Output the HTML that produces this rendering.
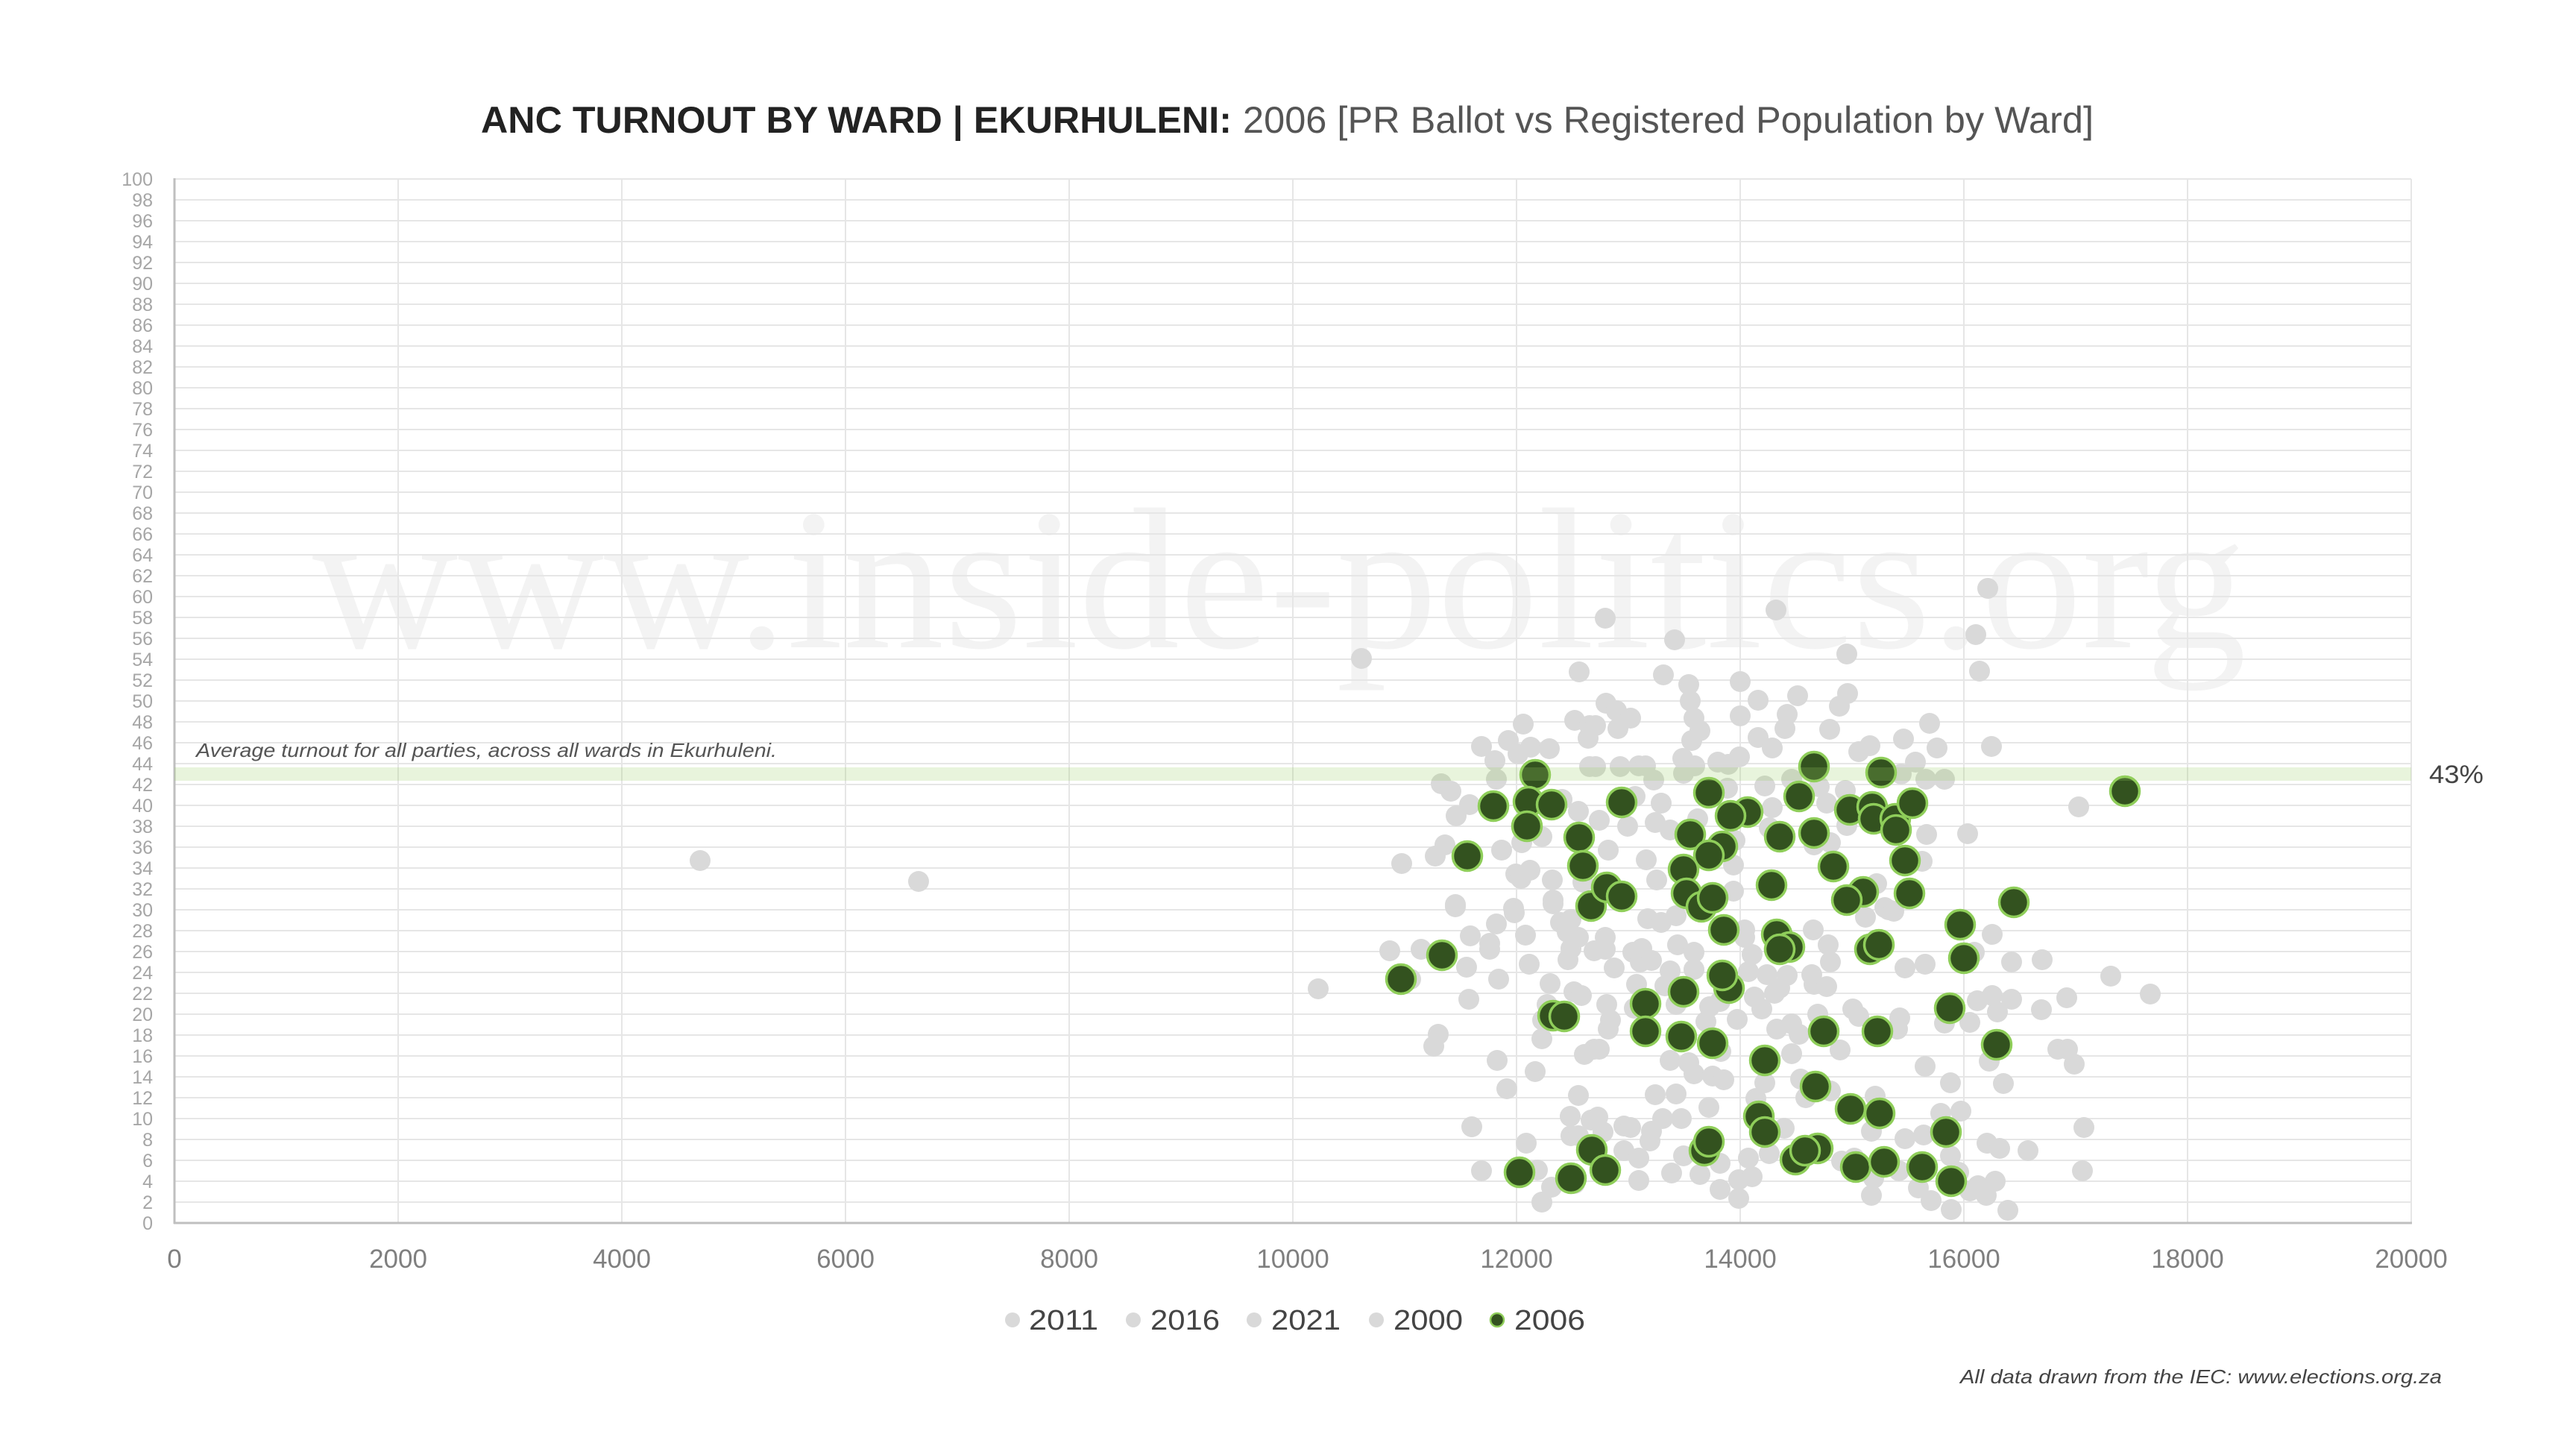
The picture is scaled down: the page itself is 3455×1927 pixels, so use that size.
<!DOCTYPE html>
<html><head><meta charset="utf-8"><style>
html,body{margin:0;padding:0;background:#fff;}
svg{display:block;}
text{font-family:"Liberation Sans",sans-serif;}
</style></head><body>
<svg width="3455" height="1927" viewBox="0 0 3455 1927" xmlns="http://www.w3.org/2000/svg">
<rect width="3455" height="1927" fill="#fff"/>
<!-- watermark -->
<text x="419" y="868" font-family="Liberation Serif, serif" style="font-family:'Liberation Serif',serif" font-size="270" fill="#f3f3f3" textLength="2594" lengthAdjust="spacingAndGlyphs">www.inside-politics.org</text>
<!-- gridlines -->
<g stroke="#e6e6e6" stroke-width="2">
<line x1="234" y1="240" x2="3234" y2="240"/><line x1="234" y1="268" x2="3234" y2="268"/><line x1="234" y1="296" x2="3234" y2="296"/><line x1="234" y1="324" x2="3234" y2="324"/><line x1="234" y1="352" x2="3234" y2="352"/><line x1="234" y1="380" x2="3234" y2="380"/><line x1="234" y1="408" x2="3234" y2="408"/><line x1="234" y1="436" x2="3234" y2="436"/><line x1="234" y1="464" x2="3234" y2="464"/><line x1="234" y1="492" x2="3234" y2="492"/><line x1="234" y1="520" x2="3234" y2="520"/><line x1="234" y1="548" x2="3234" y2="548"/><line x1="234" y1="576" x2="3234" y2="576"/><line x1="234" y1="604" x2="3234" y2="604"/><line x1="234" y1="632" x2="3234" y2="632"/><line x1="234" y1="660" x2="3234" y2="660"/><line x1="234" y1="688" x2="3234" y2="688"/><line x1="234" y1="716" x2="3234" y2="716"/><line x1="234" y1="744" x2="3234" y2="744"/><line x1="234" y1="772" x2="3234" y2="772"/><line x1="234" y1="800" x2="3234" y2="800"/><line x1="234" y1="828" x2="3234" y2="828"/><line x1="234" y1="856" x2="3234" y2="856"/><line x1="234" y1="884" x2="3234" y2="884"/><line x1="234" y1="912" x2="3234" y2="912"/><line x1="234" y1="940" x2="3234" y2="940"/><line x1="234" y1="968" x2="3234" y2="968"/><line x1="234" y1="996" x2="3234" y2="996"/><line x1="234" y1="1024" x2="3234" y2="1024"/><line x1="234" y1="1052" x2="3234" y2="1052"/><line x1="234" y1="1080" x2="3234" y2="1080"/><line x1="234" y1="1108" x2="3234" y2="1108"/><line x1="234" y1="1136" x2="3234" y2="1136"/><line x1="234" y1="1164" x2="3234" y2="1164"/><line x1="234" y1="1192" x2="3234" y2="1192"/><line x1="234" y1="1220" x2="3234" y2="1220"/><line x1="234" y1="1248" x2="3234" y2="1248"/><line x1="234" y1="1276" x2="3234" y2="1276"/><line x1="234" y1="1304" x2="3234" y2="1304"/><line x1="234" y1="1332" x2="3234" y2="1332"/><line x1="234" y1="1360" x2="3234" y2="1360"/><line x1="234" y1="1388" x2="3234" y2="1388"/><line x1="234" y1="1416" x2="3234" y2="1416"/><line x1="234" y1="1444" x2="3234" y2="1444"/><line x1="234" y1="1472" x2="3234" y2="1472"/><line x1="234" y1="1500" x2="3234" y2="1500"/><line x1="234" y1="1528" x2="3234" y2="1528"/><line x1="234" y1="1556" x2="3234" y2="1556"/><line x1="234" y1="1584" x2="3234" y2="1584"/><line x1="234" y1="1612" x2="3234" y2="1612"/>
<line x1="534" y1="240" x2="534" y2="1640"/><line x1="834" y1="240" x2="834" y2="1640"/><line x1="1134" y1="240" x2="1134" y2="1640"/><line x1="1434" y1="240" x2="1434" y2="1640"/><line x1="1734" y1="240" x2="1734" y2="1640"/><line x1="2034" y1="240" x2="2034" y2="1640"/><line x1="2334" y1="240" x2="2334" y2="1640"/><line x1="2634" y1="240" x2="2634" y2="1640"/><line x1="2934" y1="240" x2="2934" y2="1640"/><line x1="3234" y1="240" x2="3234" y2="1640"/>
</g>
<!-- axes -->
<line x1="234" y1="239" x2="234" y2="1641" stroke="#bfbfbf" stroke-width="3"/>
<line x1="233" y1="1640" x2="3235" y2="1640" stroke="#bfbfbf" stroke-width="3"/>
<!-- y labels -->
<g font-size="25" fill="#a6a6a6" text-anchor="end">
<text x="205" y="249">100</text><text x="205" y="277">98</text><text x="205" y="305">96</text><text x="205" y="333">94</text><text x="205" y="361">92</text><text x="205" y="389">90</text><text x="205" y="417">88</text><text x="205" y="445">86</text><text x="205" y="473">84</text><text x="205" y="501">82</text><text x="205" y="529">80</text><text x="205" y="557">78</text><text x="205" y="585">76</text><text x="205" y="613">74</text><text x="205" y="641">72</text><text x="205" y="669">70</text><text x="205" y="697">68</text><text x="205" y="725">66</text><text x="205" y="753">64</text><text x="205" y="781">62</text><text x="205" y="809">60</text><text x="205" y="837">58</text><text x="205" y="865">56</text><text x="205" y="893">54</text><text x="205" y="921">52</text><text x="205" y="949">50</text><text x="205" y="977">48</text><text x="205" y="1005">46</text><text x="205" y="1033">44</text><text x="205" y="1061">42</text><text x="205" y="1089">40</text><text x="205" y="1117">38</text><text x="205" y="1145">36</text><text x="205" y="1173">34</text><text x="205" y="1201">32</text><text x="205" y="1229">30</text><text x="205" y="1257">28</text><text x="205" y="1285">26</text><text x="205" y="1313">24</text><text x="205" y="1341">22</text><text x="205" y="1369">20</text><text x="205" y="1397">18</text><text x="205" y="1425">16</text><text x="205" y="1453">14</text><text x="205" y="1481">12</text><text x="205" y="1509">10</text><text x="205" y="1537">8</text><text x="205" y="1565">6</text><text x="205" y="1593">4</text><text x="205" y="1621">2</text><text x="205" y="1649">0</text>
</g>
<!-- x labels -->
<g font-size="35" fill="#7f7f7f" text-anchor="middle">
<text x="234" y="1700">0</text><text x="534" y="1700">2000</text><text x="834" y="1700">4000</text><text x="1134" y="1700">6000</text><text x="1434" y="1700">8000</text><text x="1734" y="1700">10000</text><text x="2034" y="1700">12000</text><text x="2334" y="1700">14000</text><text x="2634" y="1700">16000</text><text x="2934" y="1700">18000</text><text x="3234" y="1700">20000</text>
</g>
<!-- gray series -->
<g fill="#d9d9d9">
<circle cx="939" cy="1154" r="14"/><circle cx="1232" cy="1182" r="14"/><circle cx="1826" cy="883" r="14"/><circle cx="1768" cy="1326" r="14"/>
<circle cx="2118" cy="901" r="14"/><circle cx="2043" cy="971" r="14"/><circle cx="2112" cy="966" r="14"/><circle cx="2132" cy="973" r="14"/><circle cx="2130" cy="990" r="14"/><circle cx="1987" cy="1001" r="14"/><circle cx="2023" cy="993" r="14"/><circle cx="2053" cy="1002" r="14"/><circle cx="2078" cy="1004" r="14"/><circle cx="2036" cy="1011" r="14"/><circle cx="2005" cy="1020" r="14"/><circle cx="2132" cy="1028" r="14"/><circle cx="2007" cy="1045" r="14"/><circle cx="1933" cy="1051" r="14"/><circle cx="1946" cy="1061" r="14"/><circle cx="1971" cy="1079" r="14"/><circle cx="1953" cy="1094" r="14"/><circle cx="2095" cy="1072" r="14"/><circle cx="2117" cy="1088" r="14"/><circle cx="2068" cy="1122" r="14"/><circle cx="2041" cy="1130" r="14"/><circle cx="2014" cy="1140" r="14"/><circle cx="1938" cy="1133" r="14"/><circle cx="1925" cy="1148" r="14"/><circle cx="1880" cy="1158" r="14"/><circle cx="2052" cy="1167" r="14"/><circle cx="2033" cy="1172" r="14"/><circle cx="2040" cy="1178" r="14"/><circle cx="2082" cy="1180" r="14"/><circle cx="2083" cy="1207" r="14"/><circle cx="1952" cy="1213" r="14"/><circle cx="2030" cy="1218" r="14"/><circle cx="2123" cy="1183" r="14"/>
<circle cx="2153" cy="829" r="14"/><circle cx="2246" cy="858" r="14"/><circle cx="2382" cy="818" r="14"/><circle cx="2477" cy="877" r="14"/><circle cx="2231" cy="905" r="14"/><circle cx="2265" cy="918" r="14"/><circle cx="2334" cy="914" r="14"/><circle cx="2267" cy="940" r="14"/><circle cx="2358" cy="939" r="14"/><circle cx="2411" cy="933" r="14"/><circle cx="2478" cy="930" r="14"/><circle cx="2467" cy="947" r="14"/><circle cx="2154" cy="943" r="14"/><circle cx="2168" cy="953" r="14"/><circle cx="2187" cy="963" r="14"/><circle cx="2170" cy="977" r="14"/><circle cx="2140" cy="973" r="14"/><circle cx="2334" cy="960" r="14"/><circle cx="2397" cy="958" r="14"/><circle cx="2272" cy="963" r="14"/><circle cx="2280" cy="980" r="14"/><circle cx="2269" cy="993" r="14"/><circle cx="2394" cy="977" r="14"/><circle cx="2454" cy="978" r="14"/><circle cx="2358" cy="989" r="14"/><circle cx="2377" cy="1003" r="14"/><circle cx="2493" cy="1008" r="14"/><circle cx="2508" cy="1000" r="14"/><circle cx="2257" cy="1017" r="14"/><circle cx="2273" cy="1027" r="14"/><circle cx="2304" cy="1022" r="14"/><circle cx="2333" cy="1015" r="14"/><circle cx="2318" cy="1025" r="14"/><circle cx="2173" cy="1028" r="14"/><circle cx="2198" cy="1027" r="14"/><circle cx="2207" cy="1027" r="14"/><circle cx="2140" cy="1028" r="14"/><circle cx="2218" cy="1046" r="14"/><circle cx="2258" cy="1037" r="14"/><circle cx="2367" cy="1054" r="14"/><circle cx="2403" cy="1045" r="14"/><circle cx="2317" cy="1057" r="14"/><circle cx="2193" cy="1068" r="14"/><circle cx="2228" cy="1077" r="14"/><circle cx="2377" cy="1083" r="14"/><circle cx="2440" cy="1055" r="14"/><circle cx="2475" cy="1060" r="14"/><circle cx="2450" cy="1077" r="14"/><circle cx="2145" cy="1100" r="14"/><circle cx="2183" cy="1108" r="14"/><circle cx="2240" cy="1113" r="14"/><circle cx="2220" cy="1103" r="14"/><circle cx="2277" cy="1098" r="14"/><circle cx="2373" cy="1110" r="14"/><circle cx="2477" cy="1107" r="14"/><circle cx="2327" cy="1127" r="14"/><circle cx="2157" cy="1140" r="14"/><circle cx="2208" cy="1153" r="14"/><circle cx="2455" cy="1130" r="14"/><circle cx="2433" cy="1133" r="14"/><circle cx="2222" cy="1180" r="14"/><circle cx="2325" cy="1160" r="14"/><circle cx="2325" cy="1195" r="14"/><circle cx="2517" cy="1185" r="14"/><circle cx="2528" cy="1217" r="14"/>
<circle cx="2666" cy="789" r="14"/><circle cx="2650" cy="851" r="14"/><circle cx="2655" cy="900" r="14"/><circle cx="2588" cy="970" r="14"/><circle cx="2553" cy="991" r="14"/><circle cx="2598" cy="1003" r="14"/><circle cx="2671" cy="1001" r="14"/><circle cx="2569" cy="1022" r="14"/><circle cx="2550" cy="1038" r="14"/><circle cx="2583" cy="1045" r="14"/><circle cx="2608" cy="1045" r="14"/><circle cx="2788" cy="1082" r="14"/><circle cx="2584" cy="1119" r="14"/><circle cx="2639" cy="1118" r="14"/><circle cx="2578" cy="1155" r="14"/>
<circle cx="1952" cy="1216" r="14"/><circle cx="2031" cy="1224" r="14"/><circle cx="2083" cy="1212" r="14"/><circle cx="2007" cy="1239" r="14"/><circle cx="1972" cy="1255" r="14"/><circle cx="1998" cy="1265" r="14"/><circle cx="1998" cy="1273" r="14"/><circle cx="2046" cy="1254" r="14"/><circle cx="2093" cy="1237" r="14"/><circle cx="2107" cy="1233" r="14"/><circle cx="2102" cy="1250" r="14"/><circle cx="2117" cy="1257" r="14"/><circle cx="2107" cy="1272" r="14"/><circle cx="2138" cy="1275" r="14"/><circle cx="2103" cy="1287" r="14"/><circle cx="1864" cy="1275" r="14"/><circle cx="1906" cy="1273" r="14"/><circle cx="1967" cy="1297" r="14"/><circle cx="2051" cy="1293" r="14"/><circle cx="2010" cy="1313" r="14"/><circle cx="1892" cy="1313" r="14"/><circle cx="1970" cy="1340" r="14"/><circle cx="2079" cy="1319" r="14"/><circle cx="2111" cy="1330" r="14"/><circle cx="2121" cy="1335" r="14"/><circle cx="2075" cy="1347" r="14"/><circle cx="2069" cy="1368" r="14"/><circle cx="2068" cy="1393" r="14"/><circle cx="1929" cy="1387" r="14"/><circle cx="1923" cy="1403" r="14"/><circle cx="2125" cy="1414" r="14"/><circle cx="2138" cy="1407" r="14"/><circle cx="2008" cy="1422" r="14"/><circle cx="2059" cy="1437" r="14"/><circle cx="2021" cy="1460" r="14"/><circle cx="2117" cy="1469" r="14"/><circle cx="2106" cy="1497" r="14"/><circle cx="2134" cy="1502" r="14"/><circle cx="1974" cy="1511" r="14"/><circle cx="2107" cy="1523" r="14"/><circle cx="2117" cy="1523" r="14"/><circle cx="2047" cy="1533" r="14"/><circle cx="1987" cy="1570" r="14"/><circle cx="2062" cy="1569" r="14"/><circle cx="2081" cy="1592" r="14"/><circle cx="2112" cy="1587" r="14"/><circle cx="2068" cy="1612" r="14"/>
<circle cx="2210" cy="1232" r="14"/><circle cx="2228" cy="1237" r="14"/><circle cx="2248" cy="1228" r="14"/><circle cx="2153" cy="1257" r="14"/><circle cx="2153" cy="1273" r="14"/><circle cx="2165" cy="1298" r="14"/><circle cx="2190" cy="1277" r="14"/><circle cx="2202" cy="1272" r="14"/><circle cx="2200" cy="1290" r="14"/><circle cx="2215" cy="1288" r="14"/><circle cx="2250" cy="1267" r="14"/><circle cx="2272" cy="1277" r="14"/><circle cx="2240" cy="1302" r="14"/><circle cx="2272" cy="1300" r="14"/><circle cx="2233" cy="1322" r="14"/><circle cx="2195" cy="1320" r="14"/><circle cx="2340" cy="1247" r="14"/><circle cx="2340" cy="1257" r="14"/><circle cx="2350" cy="1280" r="14"/><circle cx="2345" cy="1303" r="14"/><circle cx="2370" cy="1307" r="14"/><circle cx="2397" cy="1308" r="14"/><circle cx="2387" cy="1325" r="14"/><circle cx="2432" cy="1247" r="14"/><circle cx="2452" cy="1267" r="14"/><circle cx="2455" cy="1290" r="14"/><circle cx="2430" cy="1307" r="14"/><circle cx="2433" cy="1320" r="14"/><circle cx="2450" cy="1323" r="14"/><circle cx="2533" cy="1220" r="14"/><circle cx="2502" cy="1230" r="14"/><circle cx="2155" cy="1347" r="14"/><circle cx="2192" cy="1352" r="14"/><circle cx="2160" cy="1368" r="14"/><circle cx="2157" cy="1380" r="14"/><circle cx="2145" cy="1407" r="14"/><circle cx="2248" cy="1347" r="14"/><circle cx="2293" cy="1350" r="14"/><circle cx="2288" cy="1370" r="14"/><circle cx="2330" cy="1367" r="14"/><circle cx="2353" cy="1337" r="14"/><circle cx="2363" cy="1353" r="14"/><circle cx="2380" cy="1332" r="14"/><circle cx="2307" cy="1343" r="14"/><circle cx="2438" cy="1360" r="14"/><circle cx="2485" cy="1353" r="14"/><circle cx="2493" cy="1363" r="14"/><circle cx="2383" cy="1380" r="14"/><circle cx="2403" cy="1373" r="14"/><circle cx="2413" cy="1387" r="14"/><circle cx="2403" cy="1413" r="14"/><circle cx="2453" cy="1383" r="14"/><circle cx="2468" cy="1408" r="14"/><circle cx="2240" cy="1422" r="14"/><circle cx="2265" cy="1425" r="14"/><circle cx="2272" cy="1440" r="14"/><circle cx="2308" cy="1410" r="14"/><circle cx="2297" cy="1443" r="14"/><circle cx="2312" cy="1448" r="14"/><circle cx="2220" cy="1468" r="14"/><circle cx="2248" cy="1467" r="14"/><circle cx="2292" cy="1485" r="14"/><circle cx="2367" cy="1452" r="14"/><circle cx="2355" cy="1473" r="14"/><circle cx="2415" cy="1447" r="14"/><circle cx="2422" cy="1472" r="14"/><circle cx="2455" cy="1463" r="14"/><circle cx="2515" cy="1470" r="14"/><circle cx="2510" cy="1517" r="14"/><circle cx="2143" cy="1498" r="14"/><circle cx="2150" cy="1518" r="14"/><circle cx="2178" cy="1510" r="14"/><circle cx="2187" cy="1512" r="14"/><circle cx="2230" cy="1500" r="14"/><circle cx="2255" cy="1500" r="14"/><circle cx="2215" cy="1517" r="14"/><circle cx="2213" cy="1530" r="14"/><circle cx="2178" cy="1543" r="14"/><circle cx="2198" cy="1553" r="14"/><circle cx="2198" cy="1583" r="14"/><circle cx="2258" cy="1550" r="14"/><circle cx="2242" cy="1573" r="14"/><circle cx="2280" cy="1575" r="14"/><circle cx="2307" cy="1560" r="14"/><circle cx="2307" cy="1595" r="14"/><circle cx="2332" cy="1582" r="14"/><circle cx="2332" cy="1607" r="14"/><circle cx="2345" cy="1553" r="14"/><circle cx="2350" cy="1578" r="14"/><circle cx="2373" cy="1547" r="14"/><circle cx="2393" cy="1513" r="14"/><circle cx="2470" cy="1557" r="14"/><circle cx="2487" cy="1553" r="14"/><circle cx="2510" cy="1603" r="14"/><circle cx="2513" cy="1580" r="14"/>
<circle cx="2540" cy="1222" r="14"/><circle cx="2672" cy="1253" r="14"/><circle cx="2648" cy="1277" r="14"/><circle cx="2582" cy="1293" r="14"/><circle cx="2555" cy="1298" r="14"/><circle cx="2698" cy="1290" r="14"/><circle cx="2739" cy="1287" r="14"/><circle cx="2831" cy="1309" r="14"/><circle cx="2884" cy="1333" r="14"/><circle cx="2652" cy="1342" r="14"/><circle cx="2672" cy="1335" r="14"/><circle cx="2698" cy="1340" r="14"/><circle cx="2679" cy="1357" r="14"/><circle cx="2642" cy="1371" r="14"/><circle cx="2608" cy="1372" r="14"/><circle cx="2772" cy="1338" r="14"/><circle cx="2738" cy="1354" r="14"/><circle cx="2548" cy="1365" r="14"/><circle cx="2545" cy="1380" r="14"/><circle cx="2760" cy="1407" r="14"/><circle cx="2773" cy="1407" r="14"/><circle cx="2782" cy="1427" r="14"/><circle cx="2668" cy="1423" r="14"/><circle cx="2582" cy="1430" r="14"/><circle cx="2616" cy="1452" r="14"/><circle cx="2687" cy="1453" r="14"/><circle cx="2603" cy="1493" r="14"/><circle cx="2630" cy="1490" r="14"/><circle cx="2795" cy="1512" r="14"/><circle cx="2555" cy="1527" r="14"/><circle cx="2580" cy="1522" r="14"/><circle cx="2665" cy="1533" r="14"/><circle cx="2682" cy="1540" r="14"/><circle cx="2720" cy="1543" r="14"/><circle cx="2616" cy="1550" r="14"/><circle cx="2793" cy="1570" r="14"/><circle cx="2547" cy="1570" r="14"/><circle cx="2573" cy="1593" r="14"/><circle cx="2590" cy="1610" r="14"/><circle cx="2627" cy="1572" r="14"/><circle cx="2642" cy="1597" r="14"/><circle cx="2653" cy="1590" r="14"/><circle cx="2676" cy="1584" r="14"/><circle cx="2664" cy="1603" r="14"/><circle cx="2617" cy="1622" r="14"/><circle cx="2693" cy="1623" r="14"/>
</g>
<!-- 2006 green series -->
<g fill="#33521f" stroke="#8fce5a" stroke-width="3.5">
<circle cx="2059" cy="1039" r="19.5"/><circle cx="2003" cy="1081" r="19.5"/><circle cx="2050" cy="1075" r="19.5"/><circle cx="2081" cy="1079" r="19.5"/><circle cx="2048" cy="1108" r="19.5"/><circle cx="2118" cy="1123" r="19.5"/><circle cx="2123" cy="1161" r="19.5"/><circle cx="1968" cy="1148" r="19.5"/><circle cx="2134" cy="1215" r="19.5"/><circle cx="2175" cy="1076" r="19.5"/><circle cx="2292" cy="1063" r="19.5"/><circle cx="2344" cy="1089" r="19.5"/><circle cx="2321" cy="1094" r="19.5"/><circle cx="2433" cy="1028" r="19.5"/><circle cx="2413" cy="1068" r="19.5"/><circle cx="2523" cy="1036" r="19.5"/><circle cx="2481" cy="1086" r="19.5"/><circle cx="2511" cy="1082" r="19.5"/><circle cx="2513" cy="1098" r="19.5"/><circle cx="2542" cy="1098" r="19.5"/><circle cx="2267" cy="1119" r="19.5"/><circle cx="2310" cy="1135" r="19.5"/><circle cx="2292" cy="1147" r="19.5"/><circle cx="2387" cy="1122" r="19.5"/><circle cx="2433" cy="1117" r="19.5"/><circle cx="2258" cy="1166" r="19.5"/><circle cx="2459" cy="1162" r="19.5"/><circle cx="2376" cy="1187" r="19.5"/><circle cx="2155" cy="1190" r="19.5"/><circle cx="2175" cy="1202" r="19.5"/><circle cx="2262" cy="1198" r="19.5"/><circle cx="2282" cy="1216" r="19.5"/><circle cx="2297" cy="1204" r="19.5"/><circle cx="2499" cy="1196" r="19.5"/><circle cx="2477" cy="1207" r="19.5"/><circle cx="2850" cy="1061" r="19.5"/><circle cx="2565" cy="1077" r="19.5"/><circle cx="2543" cy="1113" r="19.5"/><circle cx="2555" cy="1154" r="19.5"/><circle cx="2561" cy="1198" r="19.5"/><circle cx="2701" cy="1210" r="19.5"/><circle cx="1934" cy="1281" r="19.5"/><circle cx="1879" cy="1313" r="19.5"/><circle cx="2083" cy="1362" r="19.5"/><circle cx="2098" cy="1363" r="19.5"/><circle cx="2135" cy="1542" r="19.5"/><circle cx="2038" cy="1572" r="19.5"/><circle cx="2107" cy="1580" r="19.5"/><circle cx="2153" cy="1569" r="19.5"/>
<circle cx="2312" cy="1247" r="19.5"/><circle cx="2383" cy="1253" r="19.5"/><circle cx="2400" cy="1270" r="19.5"/><circle cx="2387" cy="1273" r="19.5"/><circle cx="2508" cy="1273" r="19.5"/><circle cx="2520" cy="1267" r="19.5"/><circle cx="2319" cy="1325" r="19.5"/><circle cx="2310" cy="1308" r="19.5"/><circle cx="2258" cy="1330" r="19.5"/><circle cx="2207" cy="1346" r="19.5"/><circle cx="2207" cy="1383" r="19.5"/><circle cx="2255" cy="1390" r="19.5"/><circle cx="2297" cy="1399" r="19.5"/><circle cx="2446" cy="1383" r="19.5"/><circle cx="2518" cy="1383" r="19.5"/><circle cx="2367" cy="1422" r="19.5"/><circle cx="2435" cy="1457" r="19.5"/><circle cx="2482" cy="1487" r="19.5"/><circle cx="2521" cy="1493" r="19.5"/><circle cx="2359" cy="1497" r="19.5"/><circle cx="2367" cy="1518" r="19.5"/><circle cx="2286" cy="1543" r="19.5"/><circle cx="2292" cy="1531" r="19.5"/><circle cx="2408" cy="1555" r="19.5"/><circle cx="2438" cy="1540" r="19.5"/><circle cx="2421" cy="1543" r="19.5"/><circle cx="2489" cy="1565" r="19.5"/><circle cx="2527" cy="1558" r="19.5"/>
<circle cx="2629" cy="1240" r="19.5"/><circle cx="2634" cy="1285" r="19.5"/><circle cx="2615" cy="1352" r="19.5"/><circle cx="2678" cy="1401" r="19.5"/><circle cx="2610" cy="1518" r="19.5"/><circle cx="2578" cy="1565" r="19.5"/><circle cx="2617" cy="1584" r="19.5"/>
</g>
<!-- average band (overlay) -->
<rect x="234" y="1029" width="3000" height="18" fill="rgb(153,206,100)" fill-opacity="0.225"/>
<text x="263" y="1015" font-size="26" font-style="italic" fill="#555" textLength="779" lengthAdjust="spacingAndGlyphs">Average turnout for all parties, across all wards in Ekurhuleni.</text>
<text x="3258" y="1050" font-size="34" fill="#444" textLength="73" lengthAdjust="spacingAndGlyphs">43%</text>
<!-- title -->
<text x="645" y="178" font-size="50" font-weight="bold" fill="#222" textLength="1007" lengthAdjust="spacingAndGlyphs">ANC TURNOUT BY WARD | EKURHULENI:</text>
<text x="1667" y="178" font-size="50" fill="#555" textLength="1141" lengthAdjust="spacingAndGlyphs">2006 [PR Ballot vs Registered Population by Ward]</text>
<!-- legend -->
<g fill="#d9d9d9">
<circle cx="1358" cy="1770" r="10"/><circle cx="1520" cy="1770" r="10"/><circle cx="1682" cy="1770" r="10"/><circle cx="1846" cy="1770" r="10"/>
</g>
<circle cx="2008" cy="1770" r="9" fill="#33521f" stroke="#8fce5a" stroke-width="2.5"/>
<g font-size="38" fill="#444">
<text x="1380" y="1783" textLength="93" lengthAdjust="spacingAndGlyphs">2011</text>
<text x="1543" y="1783" textLength="93" lengthAdjust="spacingAndGlyphs">2016</text>
<text x="1705" y="1783" textLength="93" lengthAdjust="spacingAndGlyphs">2021</text>
<text x="1869" y="1783" textLength="93" lengthAdjust="spacingAndGlyphs">2000</text>
<text x="2031" y="1783" textLength="95" lengthAdjust="spacingAndGlyphs">2006</text>
</g>
<!-- footer -->
<text x="2629" y="1855" font-size="26" font-style="italic" fill="#444" textLength="646" lengthAdjust="spacingAndGlyphs">All data drawn from the IEC: www.elections.org.za</text>
</svg>
</body></html>
